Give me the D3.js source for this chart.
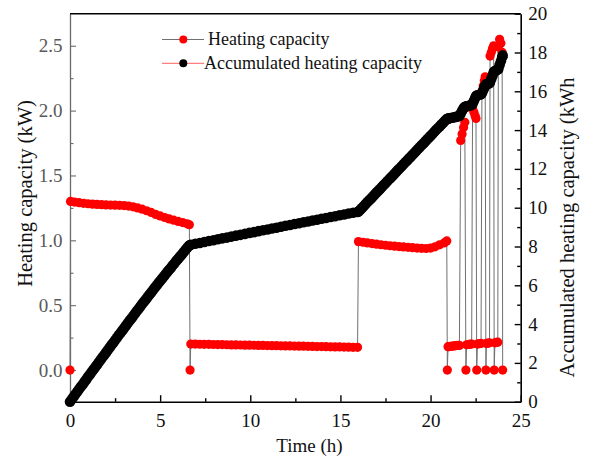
<!DOCTYPE html>
<html>
<head>
<meta charset="utf-8">
<script src="https://cdn.jsdelivr.net/npm/d3@7"></script>
<style>
  html, body { margin: 0; padding: 0; background: #fff; }
  svg { display: block; }
</style>
</head>
<body>
<svg id="chart" width="592" height="459"></svg>
<script>
// Heating capacity samples: time (h) and power (kW)
const heatHours = [
  0, 0.03, 0.25, 0.5, 0.75, 1, 1.25, 1.5, 1.75, 2, 2.25, 2.5, 2.75, 3, 3.25, 3.5, 3.75, 4,
  4.25, 4.5, 4.75, 5, 5.25, 5.5, 5.75, 6, 6.25, 6.5, 6.62,
  6.66, 6.7,
  6.95, 7.2, 7.45, 7.7, 7.95, 8.2, 8.45, 8.7, 8.95, 9.2, 9.45, 9.7, 9.95, 10.2, 10.45, 10.7,
  10.95, 11.2, 11.45, 11.7, 11.95, 12.2, 12.45, 12.7, 12.95, 13.2, 13.45, 13.7, 13.95, 14.2,
  14.45, 14.7, 14.95, 15.2, 15.45, 15.7, 15.95,
  16, 16.25, 16.5, 16.75, 17, 17.25, 17.5, 17.75, 18, 18.25, 18.5, 18.75, 19, 19.25, 19.5,
  19.75, 20, 20.25, 20.5, 20.75, 20.9,
  20.93, 20.97,
  21.0, 21.1, 21.2, 21.3, 21.4, 21.5, 21.6, 21.67, 21.75, 21.83, 21.9, 21.96,
  22.0, 22.1, 22.2, 22.28, 22.33, 22.4, 22.47, 22.52, 22.56,
  22.6, 22.7, 22.8, 22.85, 22.92, 22.98, 23.03, 23.07,
  23.1, 23.2, 23.27, 23.3, 23.37, 23.44, 23.5, 23.53,
  23.57, 23.65, 23.73, 23.76, 23.83, 23.9, 23.97, 24.0
];
const heating = [
  0, 1.30, 1.295, 1.29, 1.285, 1.282, 1.279, 1.277, 1.275, 1.273, 1.272, 1.271, 1.27, 1.268,
  1.264, 1.258, 1.25, 1.24, 1.228, 1.215, 1.2, 1.188, 1.176, 1.165, 1.155, 1.146, 1.137, 1.127, 1.12,
  0, 0.2,
  0.2, 0.199, 0.198, 0.198, 0.197, 0.196, 0.196, 0.195, 0.194, 0.194, 0.193, 0.192, 0.192,
  0.191, 0.19, 0.19, 0.189, 0.188, 0.188, 0.187, 0.186, 0.186, 0.185, 0.184, 0.184, 0.183,
  0.182, 0.181, 0.181, 0.18, 0.179, 0.178, 0.178, 0.177, 0.176, 0.175, 0.175,
  0.99, 0.985, 0.98, 0.975, 0.97, 0.966, 0.962, 0.958, 0.955, 0.952, 0.949, 0.946, 0.943,
  0.94, 0.938, 0.937, 0.94, 0.95, 0.965, 0.98, 0.995,
  0, 0.18,
  0.18, 0.182, 0.184, 0.186, 0.188, 0.19, 0.19, 1.77, 1.82, 1.87, 1.91, 0,
  0.195, 0.197, 0.2, 0.2, 2.02, 1.99, 1.96, 1.94, 0,
  0.2, 0.203, 0.205, 2.15, 2.19, 2.23, 2.26, 0,
  0.205, 0.208, 0.21, 2.42, 2.45, 2.48, 2.5, 0,
  0.21, 0.213, 0.215, 2.49, 2.55, 2.52, 2.45, 0
];

// Accumulated heating capacity samples: time (h) and energy (kWh)
const accHours = [
  0, 0.1, 0.2, 0.3, 0.4, 0.5, 0.6, 0.7, 0.8, 0.9, 1.0, 1.1, 1.2, 1.3, 1.4, 1.5, 1.6, 1.7, 1.8,
  1.9, 2.0, 2.1, 2.2, 2.3, 2.4, 2.5, 2.6, 2.7, 2.8, 2.9, 3.0, 3.1, 3.2, 3.3, 3.4, 3.5, 3.6,
  3.7, 3.8, 3.9, 4.0, 4.1, 4.2, 4.3, 4.4, 4.5, 4.6, 4.7, 4.8, 4.9, 5.0, 5.1, 5.2, 5.3, 5.4,
  5.5, 5.6, 5.7, 5.8, 5.9, 6.0, 6.1, 6.2, 6.3, 6.4, 6.5, 6.6, 6.66, 6.7,
  6.95, 7.2, 7.45, 7.7, 7.95, 8.2, 8.45, 8.7, 8.95, 9.2, 9.45, 9.7, 9.95, 10.2, 10.45, 10.7,
  10.95, 11.2, 11.45, 11.7, 11.95, 12.2, 12.45, 12.7, 12.95, 13.2, 13.45, 13.7, 13.95, 14.2,
  14.45, 14.7, 14.95, 15.2, 15.45, 15.7, 15.95,
  16.0, 16.1, 16.2, 16.3, 16.4, 16.5, 16.6, 16.7, 16.8, 16.9, 17.0, 17.1, 17.2, 17.3, 17.4,
  17.5, 17.6, 17.7, 17.8, 17.9, 18.0, 18.1, 18.2, 18.3, 18.4, 18.5, 18.6, 18.7, 18.8, 18.9,
  19.0, 19.1, 19.2, 19.3, 19.4, 19.5, 19.6, 19.7, 19.8, 19.9, 20.0, 20.1, 20.2, 20.3, 20.4,
  20.5, 20.6, 20.7, 20.8, 20.9,
  20.93, 20.97,
  21.0, 21.1, 21.2, 21.3, 21.4, 21.5, 21.6, 21.67, 21.75, 21.83, 21.9, 21.96,
  22.0, 22.1, 22.2, 22.28, 22.33, 22.4, 22.47, 22.52, 22.56,
  22.6, 22.7, 22.8, 22.85, 22.92, 22.98, 23.03, 23.07,
  23.1, 23.2, 23.27, 23.3, 23.37, 23.44, 23.5, 23.53,
  23.57, 23.65, 23.73, 23.76, 23.83, 23.9, 23.97, 24.0
];
const accumulated = [
  0, 0.13, 0.26, 0.38, 0.51, 0.64, 0.77, 0.89, 1.02, 1.15, 1.28, 1.4, 1.53, 1.66, 1.78, 1.91,
  2.03, 2.16, 2.29, 2.41, 2.54, 2.66, 2.79, 2.92, 3.04, 3.17, 3.29, 3.42, 3.54, 3.67, 3.79,
  3.92, 4.04, 4.17, 4.29, 4.41, 4.54, 4.66, 4.78, 4.91, 5.03, 5.15, 5.27, 5.39, 5.51, 5.63,
  5.75, 5.87, 5.99, 6.11, 6.22, 6.34, 6.45, 6.57, 6.69, 6.8, 6.91, 7.03, 7.14, 7.26, 7.37,
  7.48, 7.59, 7.7, 7.82, 7.93, 8.04, 8.08, 8.09,
  8.14, 8.18, 8.23, 8.28, 8.32, 8.37, 8.42, 8.46, 8.51, 8.56, 8.6, 8.65, 8.7, 8.74, 8.79,
  8.84, 8.88, 8.93, 8.97, 9.02, 9.07, 9.11, 9.16, 9.2, 9.25, 9.29, 9.34, 9.38, 9.43, 9.47,
  9.52, 9.56, 9.61, 9.65, 9.7, 9.74, 9.78,
  9.8, 9.9, 9.99, 10.09, 10.19, 10.29, 10.39, 10.48, 10.58, 10.68, 10.78, 10.87, 10.97, 11.07,
  11.17, 11.26, 11.36, 11.46, 11.56, 11.65, 11.75, 11.85, 11.95, 12.04, 12.14, 12.24, 12.34,
  12.43, 12.53, 12.63, 12.73, 12.82, 12.92, 13.02, 13.12, 13.22, 13.31, 13.41, 13.51, 13.61,
  13.7, 13.8, 13.9, 14.0, 14.09, 14.19, 14.29, 14.38, 14.48, 14.57,
  14.58, 14.59,
  14.6, 14.62, 14.64, 14.66, 14.68, 14.7, 14.73, 14.85, 15.0, 15.12, 15.2, 15.22,
  15.23, 15.25, 15.27, 15.3, 15.36, 15.5, 15.64, 15.74, 15.78,
  15.8, 15.82, 15.85, 15.9, 16.05, 16.2, 16.3, 16.35,
  16.37, 16.4, 16.42, 16.48, 16.65, 16.82, 16.97, 17.02,
  17.05, 17.08, 17.12, 17.15, 17.35, 17.55, 17.75, 17.85
];

// Axis ticks
const xTicks = [0, 5, 10, 15, 20, 25];
const xMinor = [2.5, 7.5, 12.5, 17.5, 22.5];
const leftTicks = [0, 0.5, 1.0, 1.5, 2.0, 2.5];
const leftMinor = [0.25, 0.75, 1.25, 1.75, 2.25];
const rightTicks = [0, 2, 4, 6, 8, 10, 12, 14, 16, 18, 20];
const rightMinor = [1, 3, 5, 7, 9, 11, 13, 15, 17, 19];

const seriesNames = ["Heating capacity", "Accumulated heating capacity"];

const serif = '"Liberation Serif", "Times New Roman", serif';

const svg = d3.select("#chart");
svg.append("rect").attr("width", 592).attr("height", 459).attr("fill", "#fff");

const plot = { left: 70, right: 520.7, top: 13.7, bottom: 401.7 };

const x = d3.scaleLinear().domain([0, 25]).range([plot.left, plot.right]);
const yL = d3.scaleLinear().domain([-0.244, 2.747]).range([plot.bottom, plot.top]);
const yR = d3.scaleLinear().domain([0, 20]).range([plot.bottom, plot.top]);

const tickFont = 19;

function styleAxis(g, lineColor, textColor, width) {
  g.attr("font-family", null);
  g.selectAll("path.domain").attr("stroke", lineColor).attr("stroke-width", width);
  g.selectAll(".tick line").attr("stroke", lineColor).attr("stroke-width", width - 0.2);
  g.selectAll(".tick text").attr("fill", textColor)
    .style("font-family", serif).style("font-size", tickFont + "px");
}

// Bottom axis
const gx = svg.append("g").attr("transform", `translate(0,${plot.bottom})`)
  .call(d3.axisBottom(x).tickValues(xTicks).tickSize(-6.5).tickSizeOuter(0).tickPadding(11.5));
gx.append("g").call(d3.axisBottom(x).tickValues(xMinor).tickSize(-3.5).tickFormat(""))
  .select(".domain").remove();
styleAxis(gx, "#000", "#111", 1.6);

// Left axis
const gl = svg.append("g").attr("transform", `translate(${plot.left},0)`)
  .call(d3.axisLeft(yL).tickValues(leftTicks).tickFormat(d3.format(".1f"))
    .tickSize(-6).tickSizeOuter(0).tickPadding(7.5));
gl.append("g").call(d3.axisLeft(yL).tickValues(leftMinor).tickSize(-3.5).tickFormat(""))
  .select(".domain").remove();
styleAxis(gl, "#6a6a6a", "#595959", 1.3);

// Right axis
const gr = svg.append("g").attr("transform", `translate(${plot.right},0)`)
  .call(d3.axisRight(yR).tickValues(rightTicks).tickSize(-6).tickSizeOuter(0).tickPadding(7.5));
gr.append("g").call(d3.axisRight(yR).tickValues(rightMinor).tickSize(-3.5).tickFormat(""))
  .select(".domain").remove();
styleAxis(gr, "#000", "#111", 1.6);

// Top frame line
svg.append("line")
  .attr("x1", plot.left).attr("x2", plot.right)
  .attr("y1", plot.top).attr("y2", plot.top)
  .attr("stroke", "#000").attr("stroke-width", 1.6);

const heatData = heatHours.map((t, i) => ({ t, v: heating[i] }));
const accData = accHours.map((t, i) => ({ t, v: accumulated[i] }));

// Heating capacity: grey connector + red markers
svg.append("path").datum(heatData)
  .attr("fill", "none").attr("stroke", "#707070").attr("stroke-width", 1)
  .attr("d", d3.line().x(d => x(d.t)).y(d => yL(d.v)));
svg.append("g").selectAll("circle").data(heatData).join("circle")
  .attr("cx", d => x(d.t)).attr("cy", d => yL(d.v)).attr("r", 4.6).attr("fill", "#ff0000");

// Accumulated heating capacity: red connector + black markers
svg.append("path").datum(accData)
  .attr("fill", "none").attr("stroke", "#ff0000").attr("stroke-width", 1)
  .attr("d", d3.line().x(d => x(d.t)).y(d => yR(d.v)));
svg.append("g").selectAll("circle").data(accData).join("circle")
  .attr("cx", d => x(d.t)).attr("cy", d => yR(d.v)).attr("r", 5.3).attr("fill", "#000");

// Legend
const legend = svg.append("g");
const legendRows = [
  { y: 39.5, line: "#707070", dot: "#ff0000", tx: 208 },
  { y: 63.3, line: "#ff6060", dot: "#000", tx: 204 }
];
legendRows.forEach((r, i) => {
  legend.append("line").attr("x1", 162).attr("x2", 204).attr("y1", r.y).attr("y2", r.y)
    .attr("stroke", r.line).attr("stroke-width", 1);
  legend.append("circle").attr("cx", 183.3).attr("cy", r.y).attr("r", 4).attr("fill", r.dot);
  legend.append("text").attr("x", r.tx).attr("y", r.y + 5.8)
    .style("font-family", serif).style("font-size", "18px")
    .attr("fill", "#111").text(seriesNames[i]);
});

// Axis titles
svg.append("text").attr("x", 309.5).attr("y", 451.5).attr("text-anchor", "middle")
  .style("font-family", serif).style("font-size", "19px")
  .attr("fill", "#111").text("Time (h)");
svg.append("text").attr("transform", "translate(32,193.5) rotate(-90)")
  .attr("text-anchor", "middle")
  .style("font-family", serif).style("font-size", "20.5px")
  .attr("fill", "#111").text("Heating capacity (kW)");
svg.append("text").attr("transform", "translate(573.5,227.5) rotate(-90)")
  .attr("text-anchor", "middle")
  .style("font-family", serif).style("font-size", "20.5px")
  .attr("fill", "#111").text("Accumulated heating capacity (kWh");
</script>
</body>
</html>
